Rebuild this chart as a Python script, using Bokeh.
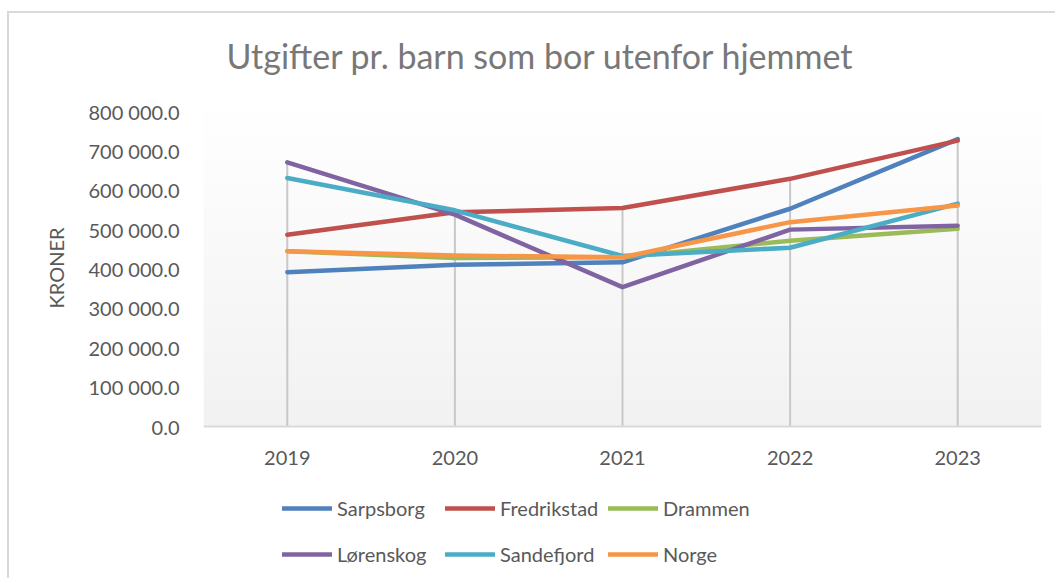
import numpy as np
from bokeh.plotting import figure
from bokeh.models import FixedTicker, Legend, LegendItem, Range1d, Span, Title, Label
from bokeh.core.properties import value
from bokeh.embed import file_html
from bokeh.resources import INLINE

# ---- data ----
years = ["2019", "2020", "2021", "2022", "2023"]
sarpsborg = [392000, 411000, 417000, 553000, 730000]
fredrikstad = [487000, 544000, 555000, 629000, 726000]
drammen = [445000, 428000, 430000, 472000, 502000]
lorenskog = [671000, 538000, 354000, 500000, 510000]
sandefjord = [631000, 549000, 433000, 454000, 566000]
norge = [445000, 434000, 430000, 519000, 561000]
series_names = ["Sarpsborg", "Fredrikstad", "Drammen", "Lørenskog", "Sandefjord", "Norge"]
y_ticks = [0, 100000, 200000, 300000, 400000, 500000, 600000, 700000, 800000]
y_tick_labels = ["0.0", "100 000.0", "200 000.0", "300 000.0", "400 000.0",
                 "500 000.0", "600 000.0", "700 000.0", "800 000.0"]
title_text = "Utgifter pr. barn som bor utenfor hjemmet"

# ---- styles / layout ----
colors = ["#4F81BD", "#C0504D", "#9BBB59", "#8064A2", "#4BACC6", "#F79646"]
FONT = "Lato"
TXT = "#595959"
W, H = 1048, 567
LEFT, RIGHT = 194, 16
TOP_PX = 98         # frame px above value max
VALUE_PX = 315      # px spanned by the value axis 0..max
BELOW_PX = H - TOP_PX - VALUE_PX   # frame px below value 0 (year labels and legend)
TITLE_CX_PX = 337   # title centre, px from frame left
TITLE_BASE_PX = 56  # title anchor, px above value max

series = [sarpsborg, fredrikstad, drammen, lorenskog, sandefjord, norge]
xs = list(range(len(years)))
x0, x1 = -0.5, len(years) - 0.5
y0, y1 = y_ticks[0], y_ticks[-1]
upx = (y1 - y0) / VALUE_PX
xpx = (x1 - x0) / (W - LEFT - RIGHT)
y_bottom = y0 - BELOW_PX * upx
y_top = y1 + TOP_PX * upx

p = figure(width=W, height=H, output_backend="svg", toolbar_location=None,
           x_range=Range1d(x0, x1), y_range=Range1d(y_bottom, y_top),
           x_axis_location=None,
           min_border_left=LEFT, min_border_right=RIGHT, min_border_top=0,
           min_border_bottom=0)
p.styles = {"margin-left": "7px", "margin-top": "11px",
            "border-left": "2px solid #d9d9d9", "border-top": "2px solid #d9d9d9"}
p.outline_line_color = None
p.background_fill_color = "white"
p.border_fill_color = "white"
p.grid.visible = False

# gradient plot-area background
n = 256
g = np.linspace(0xf2, 0xff, n).astype(np.uint8)
img = np.empty((n, 1), dtype=np.uint32)
view = img.view(dtype=np.uint8).reshape((n, 1, 4))
view[:, 0, 0] = g
view[:, 0, 1] = g
view[:, 0, 2] = g
view[:, 0, 3] = 255
p.image_rgba(image=[img], x=x0, y=y0, dw=x1 - x0, dh=y1 - y0)

# drop lines
tops = np.max(np.array(series), axis=0)
p.segment(x0=xs, y0=[y0] * len(xs), x1=xs, y1=list(tops), line_color="#c8c8c8", line_width=2)

# category axis line + year labels
p.add_layout(Span(location=y0, dimension="width", line_color="#d9d9d9", line_width=2))
p.text(x=xs, y=[y0] * len(xs), text=years, y_offset=31, text_align="center",
       text_baseline="middle", text_font=value(FONT), text_font_size="20px",
       text_color=TXT)

renderers = []
for name, vals, c in zip(series_names, series, colors):
    r = p.line(xs, vals, line_color=c, line_width=4.5, line_cap="round", line_join="round")
    renderers.append(r)

# chart title
p.add_layout(Label(x=x0 + TITLE_CX_PX * xpx, y=y1 + TITLE_BASE_PX * upx, text=title_text,
                   text_align="center", text_baseline="alphabetic",
                   text_font=FONT, text_font_size="34px", text_color="#787878"))

# y axis
ya = p.yaxis[0]
ya.ticker = FixedTicker(ticks=y_ticks)
ya.major_label_overrides = {t: l for t, l in zip(y_ticks, y_tick_labels)}
ya.axis_line_color = None
ya.major_tick_line_color = None
ya.minor_tick_line_color = None
ya.major_label_standoff = 18
ya.major_label_text_font = FONT
ya.major_label_text_font_size = "20px"
ya.major_label_text_color = TXT

ytitle = Title(text="KRONER", align="left", offset=272, standoff=36,
               text_font=FONT, text_font_size="20px", text_font_style="normal",
               text_color=TXT)
p.add_layout(ytitle, "left")

legend = Legend(items=[LegendItem(label=nm, renderers=[r]) for nm, r in zip(series_names, renderers)],
                orientation="horizontal", ncols=3, location=(79, 3),
                glyph_width=50, glyph_height=46, label_height=46, label_width=108,
                label_standoff=5, spacing=0, padding=0, margin=0,
                border_line_color=None, background_fill_alpha=0,
                label_text_font=FONT, label_text_font_size="20px", label_text_color=TXT)
p.add_layout(legend, "center")

open("out.html", "w").write(file_html(p, INLINE))
